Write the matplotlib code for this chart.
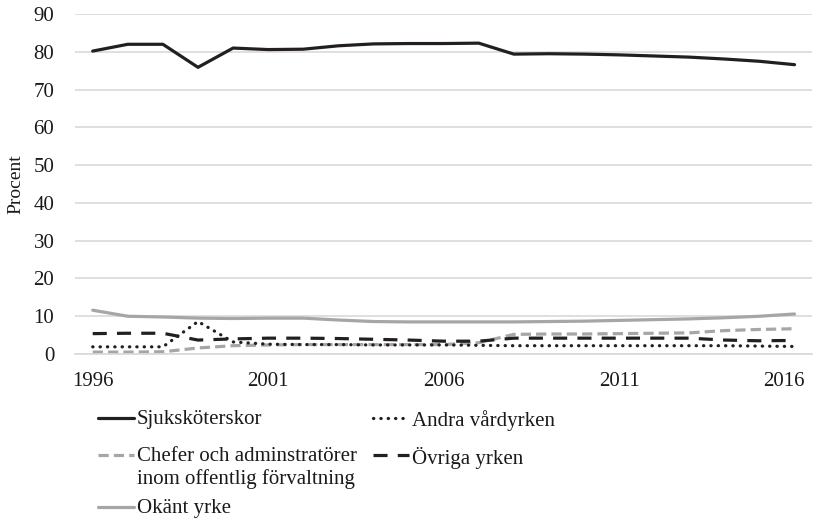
import matplotlib
matplotlib.use("Agg")
import matplotlib.pyplot as plt
from matplotlib.lines import Line2D
from matplotlib.transforms import ScaledTranslation

plt.rcParams['font.family'] = ['Liberation Serif', 'DejaVu Serif']

years = list(range(1996, 2017))

sjukskoterskor = [80.2, 82.0, 82.0, 75.9, 81.0, 80.6, 80.7, 81.6, 82.1, 82.2, 82.2, 82.3,
                  79.4, 79.5, 79.4, 79.2, 78.9, 78.6, 78.1, 77.5, 76.6]
andra_vard = [1.9, 1.9, 1.9, 8.6, 3.2, 2.6, 2.5, 2.5, 2.4, 2.4, 2.4, 2.3,
              2.2, 2.2, 2.2, 2.2, 2.2, 2.2, 2.2, 2.1, 2.0]
chefer = [0.5, 0.5, 0.6, 1.6, 2.2, 2.4, 2.5, 2.5, 2.5, 2.5, 2.5, 3.0,
          5.2, 5.3, 5.3, 5.4, 5.5, 5.6, 6.2, 6.5, 6.7]
ovriga = [5.4, 5.5, 5.5, 3.7, 4.0, 4.2, 4.2, 4.1, 3.9, 3.7, 3.4, 3.4,
          4.2, 4.2, 4.2, 4.2, 4.2, 4.2, 3.7, 3.5, 3.6]
okant = [11.6, 10.0, 9.8, 9.5, 9.4, 9.5, 9.5, 9.0, 8.6, 8.5, 8.5, 8.5,
         8.5, 8.6, 8.7, 8.9, 9.1, 9.3, 9.6, 10.0, 10.6]

labels = ["Sjuksköterskor", "Andra vårdyrken",
          "Chefer och adminstratörer\ninom offentlig förvaltning",
          "Övriga yrken", "Okänt yrke"]

dark = "#231f20"
grey = "#a6a6a6"
txt = "#1a1a1a"
lw = 2.3
fs = 15

styles = {
    "sjuk": dict(color=dark, lw=lw, solid_capstyle="round", solid_joinstyle="round"),
    "andra": dict(color=dark, lw=lw, linestyle=(0, (0.1, 2.2)), dash_capstyle="round"),
    "chefer": dict(color=grey, lw=lw, linestyle=(0, (3.2, 1.6)), dash_capstyle="butt"),
    "ovriga": dict(color=dark, lw=lw, linestyle=(0, (4.4, 3.2)), dash_capstyle="butt"),
    "okant": dict(color=grey, lw=lw, solid_capstyle="round"),
}

fig = plt.figure(figsize=(8.17, 5.21), dpi=100)
ax = fig.add_axes([0.092, 0.3205, 0.902, 0.6525])

ax.plot(years, okant, **styles["okant"])
ax.plot(years, chefer, **styles["chefer"])
ax.plot(years, andra_vard, **styles["andra"])
ax.plot(years, ovriga, **styles["ovriga"])
ax.plot(years, sjukskoterskor, **styles["sjuk"])

ax.set_xlim(1995.5, 2016.5)
ax.set_ylim(0, 90)
ax.set_yticks(range(0, 91, 10))
ax.set_xticks([1996, 2001, 2006, 2011, 2016])
ax.yaxis.grid(True, color="#d9d9d9", lw=1.2)
ax.set_axisbelow(True)
for s in ["top", "right", "left"]:
    ax.spines[s].set_visible(False)
ax.spines["bottom"].set_color("#d9d9d9")
ax.spines["bottom"].set_linewidth(1.2)
ax.tick_params(axis="both", length=0, labelsize=fs, colors=txt)
ax.tick_params(axis="y", pad=15)
ax.tick_params(axis="x", pad=13)
ax.set_ylabel("Procent", fontsize=14, color=txt, va="center")
ax.yaxis.set_label_coords(-0.081, 0.5)

# last year label pulled inside like the original
last = ax.get_xticklabels()[-1]
last.set_transform(last.get_transform() + ScaledTranslation(-8 / 72, 0, fig.dpi_scale_trans))

# legend drawn below the axes
W, H = 817.0, 521.0
entries = [
    ("sjuk", labels[0], 98, 418),
    ("andra", labels[1], 373, 418),
    ("chefer", labels[2], 98, 455),
    ("ovriga", labels[3], 373, 455),
    ("okant", labels[4], 98, 507),
]
for key, text, x0, y0 in entries:
    st = dict(styles[key])
    fig.add_artist(Line2D([x0 / W, (x0 + 36) / W], [1 - y0 / H, 1 - y0 / H],
                          transform=fig.transFigure, **st))
    fig.text((x0 + 39) / W, 1 - (y0 - 8) / H, text, fontsize=fs, color=txt,
             va="top", ha="left", linespacing=1.2)

fig.savefig("out.png", dpi=100)
